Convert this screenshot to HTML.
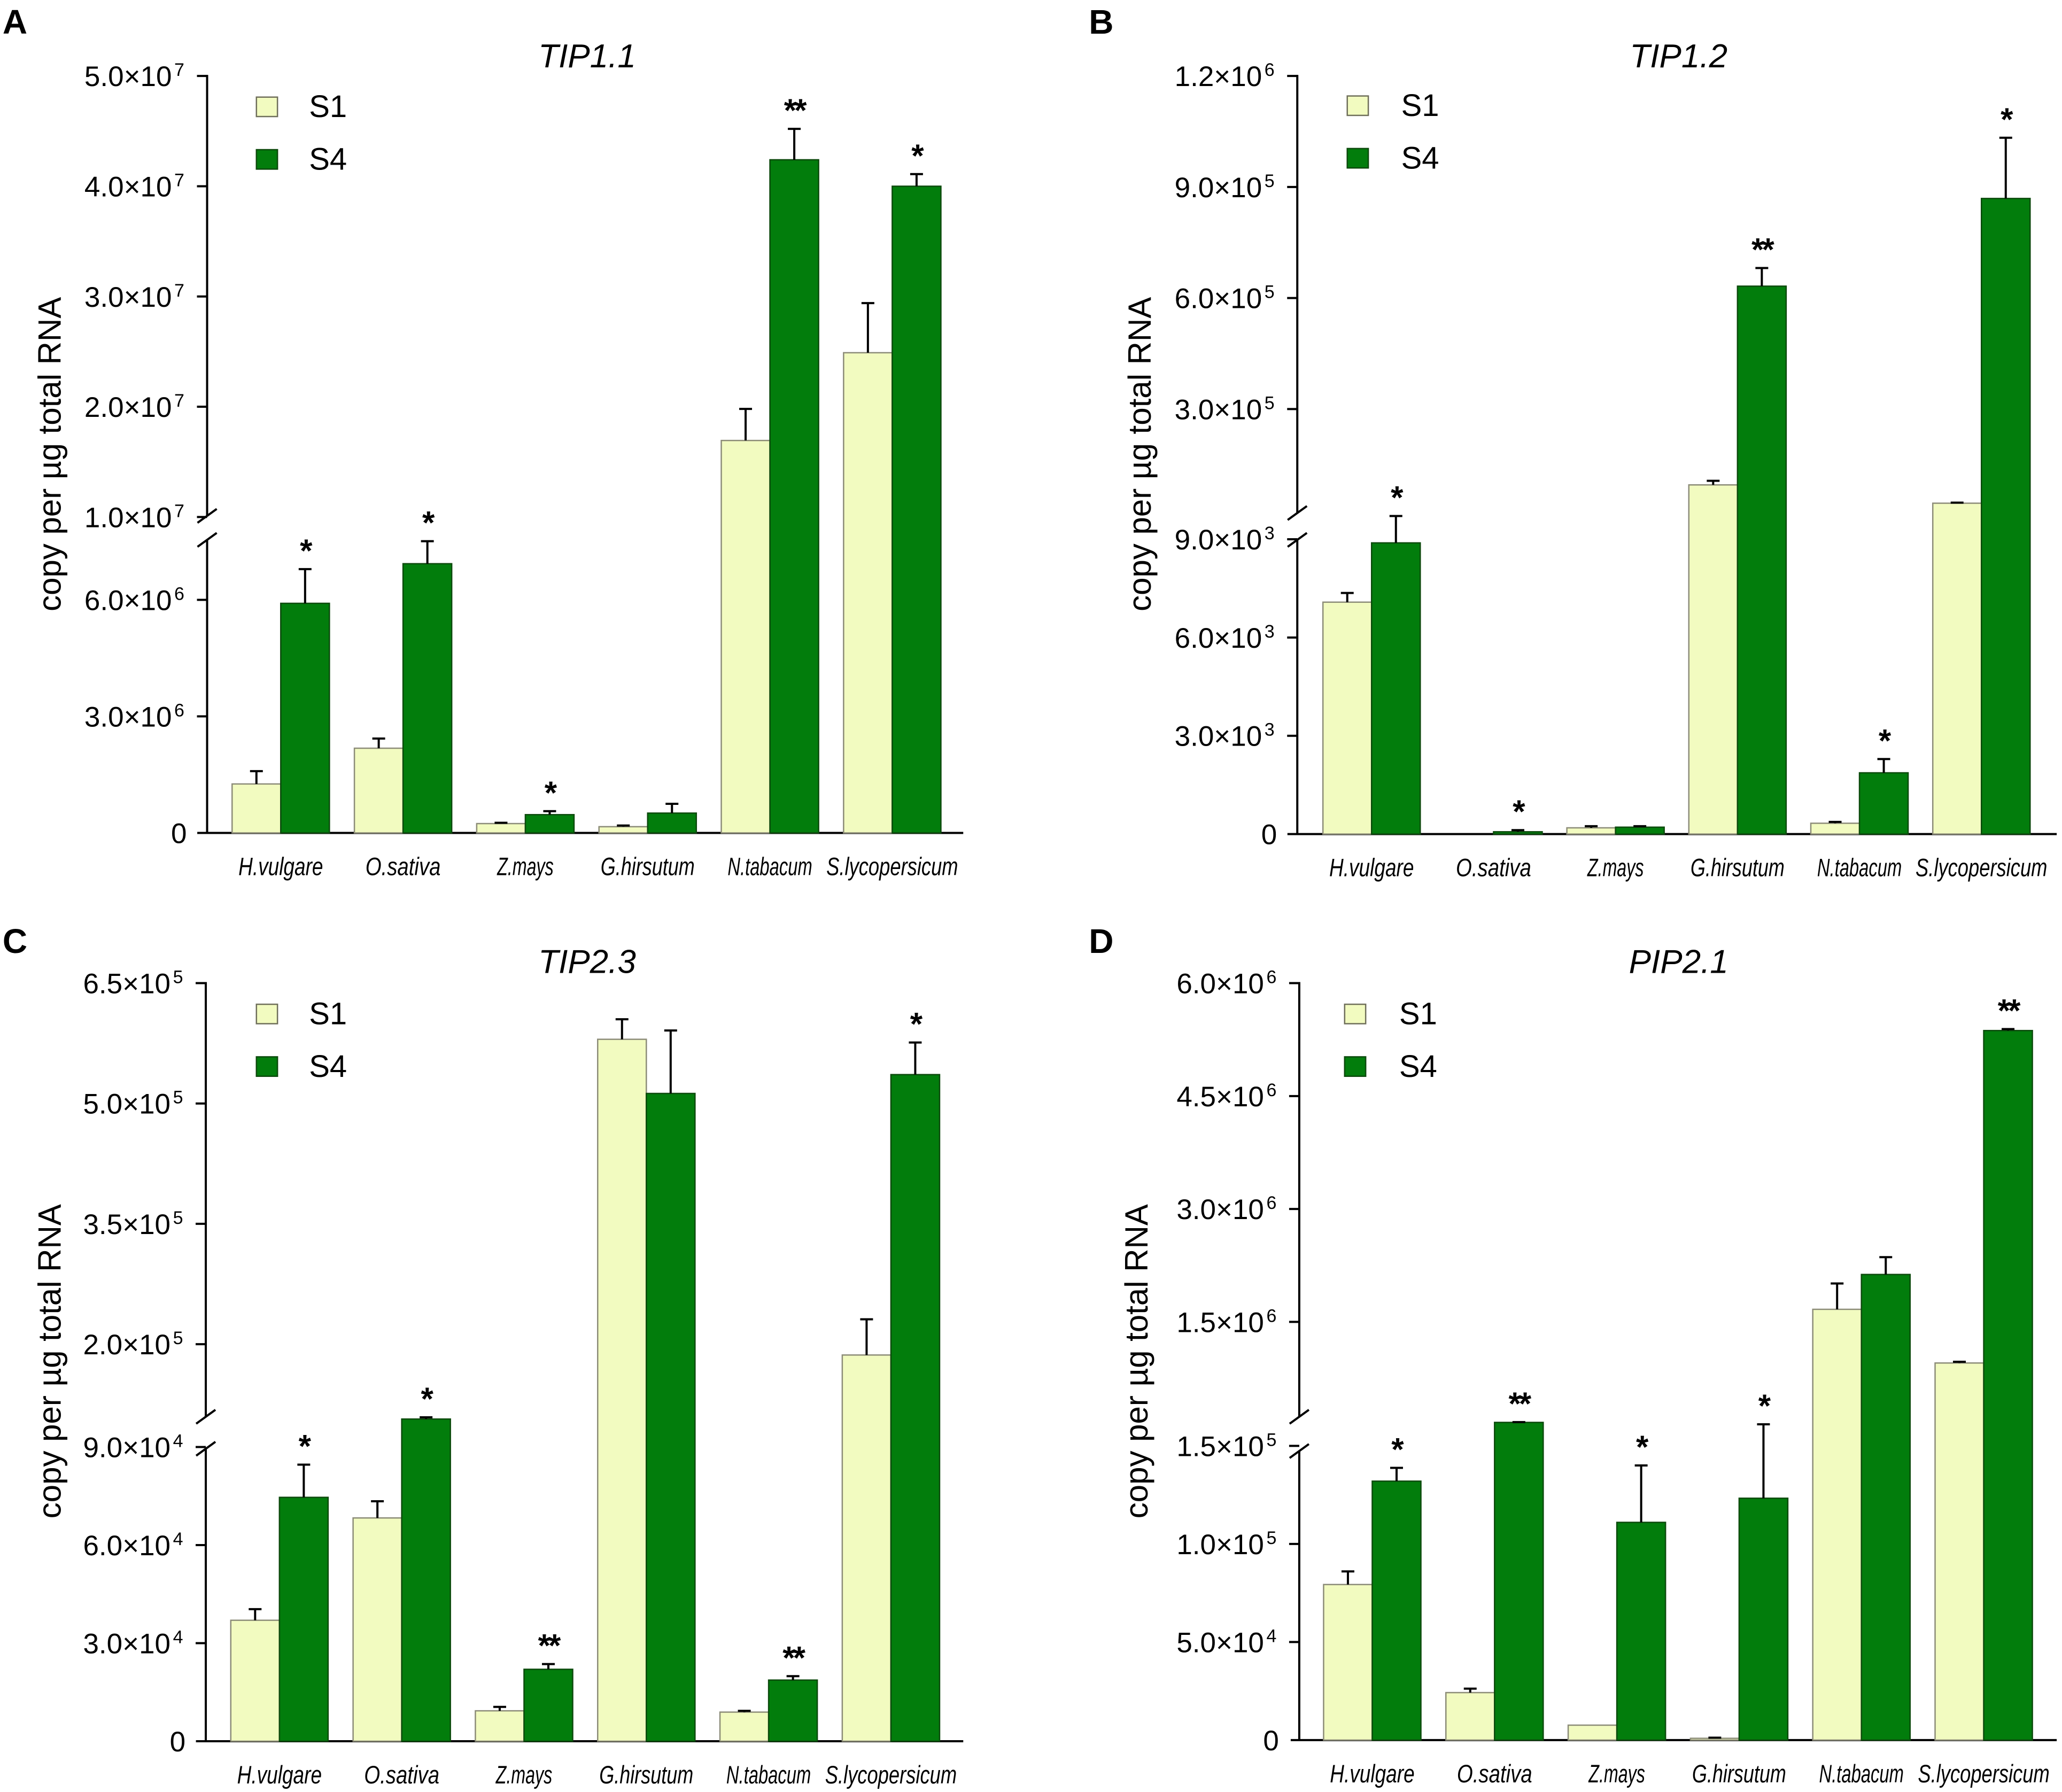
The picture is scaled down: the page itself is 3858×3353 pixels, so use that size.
<!DOCTYPE html>
<html><head><meta charset="utf-8"><style>
html,body{margin:0;padding:0;background:#fff}
svg{display:block}
text{font-family:"Liberation Sans",Arial,sans-serif;fill:#000}
</style></head><body>
<svg id="fig" width="3858" height="3353" viewBox="0 0 3858 3353" xmlns="http://www.w3.org/2000/svg">
<rect width="3858" height="3353" fill="#fff"/>
</svg>
<script>
// ---- data ----
const categories = ["H.vulgare","O.sativa","Z.mays","G.hirsutum","N.tabacum","S.lycopersicum"];
// Panel A TIP1.1
const aS1 = [1.26e6, 2.18e6, 0.24e6, 0.16e6, 1.694e7, 2.49e7];
const aS1Err = [1.59e6, 2.43e6, 0.26e6, 0.19e6, 1.98e7, 2.94e7];
const aS4 = [5.91e6, 6.93e6, 0.47e6, 0.51e6, 4.24e7, 4.0e7];
const aS4Err = [6.79e6, 7.51e6, 0.56e6, 0.75e6, 4.52e7, 4.11e7];
const aStars = ["*","*","*","","**","*"];
const aTickVals = [0, 3e6, 6e6, 1e7, 2e7, 3e7, 4e7, 5e7];
const aTickMant = ["0","3.0×10","6.0×10","1.0×10","2.0×10","3.0×10","4.0×10","5.0×10"];
const aTickExp = ["","6","6","7","7","7","7","7"];
// Panel B TIP1.2
const bS1 = [7.08e3, 0, 0.19e3, 0.95e5, 0.33e3, 0.455e5];
const bS1Err = [7.36e3, 0, 0.24e3, 1.06e5, 0.37e3, 0.47e5];
const bS4 = [8.89e3, 0.07e3, 0.21e3, 6.32e5, 1.87e3, 8.69e5];
const bS4Err = [9.71e3, 0.12e3, 0.24e3, 6.81e5, 2.29e3, 10.33e5];
const bStars = ["*","*","","**","*","*"];
const bTickVals = [0, 3e3, 6e3, 9e3, 3e5, 6e5, 9e5, 1.2e6];
const bTickMant = ["0","3.0×10","6.0×10","9.0×10","3.0×10","6.0×10","9.0×10","1.2×10"];
const bTickExp = ["","3","3","3","5","5","5","6"];
// Panel C TIP2.3
const cS1 = [3.70e4, 6.83e4, 0.93e4, 5.80e5, 0.89e4, 1.865e5];
const cS1Err = [4.04e4, 7.34e4, 1.05e4, 6.05e5, 0.93e4, 2.31e5];
const cS4 = [7.46e4, 1.067e5, 2.2e4, 5.125e5, 1.87e4, 5.36e5];
const cS4Err = [8.46e4, 1.089e5, 2.36e4, 5.91e5, 1.99e4, 5.76e5];
const cStars = ["*","*","**","","**","*"];
const cTickVals = [0, 3e4, 6e4, 9e4, 2e5, 3.5e5, 5e5, 6.5e5];
const cTickMant = ["0","3.0×10","6.0×10","9.0×10","2.0×10","3.5×10","5.0×10","6.5×10"];
const cTickExp = ["","4","4","4","5","5","5","5"];
// Panel D PIP2.1
const dS1 = [7.93e4, 2.42e4, 0.76e4, 0.09e4, 1.667e6, 0.954e6];
const dS1Err = [8.6e4, 2.62e4, 0.76e4, 0.12e4, 2.01e6, 0.97e6];
const dS4 = [13.2e4, 1.65e5, 11.1e4, 12.33e4, 2.13e6, 5.37e6];
const dS4Err = [13.88e4, 1.69e5, 14.0e4, 16.1e4, 2.36e6, 5.39e6];
const dStars = ["*","**","*","*","","**"];
const dTickVals = [0, 5e4, 1e5, 1.5e5, 1.5e6, 3e6, 4.5e6, 6e6];
const dTickMant = ["0","5.0×10","1.0×10","1.5×10","1.5×10","3.0×10","4.5×10","6.0×10"];
const dTickExp = ["","4","5","5","6","6","6","6"];

// ---- layout (zoom-space units converted to px) ----
const KX = 1.2302, KY = 1.0689;
const panels = [
 {id:"a", letter:"A", title:"TIP1.1", ox:0, oy:0, axisX:315, xs:300, xe:1465, zeroY:1458,
  lowRefV:6e6, lowRefY:1050, lowTop:945, upBot:903, up1V:1e7, up1Y:905, up2V:5e7, up2Y:133, thr:8e6,
  first:353, step:186, bw:74, titleX:893, titleY:118, legX:390, legY:170, legTX:470, legTY:205,
  letX:4, letY:59, ytX:75, ytY:795,
  s1:aS1, s1e:aS1Err, s4:aS4, s4e:aS4Err, stars:aStars, tv:aTickVals, tm:aTickMant, te:aTickExp},
 {id:"b", letter:"B", title:"TIP1.2", ox:1929, oy:0, axisX:405, xs:390, xe:1560, zeroY:1460,
  lowRefV:9e3, lowRefY:944, lowTop:945, upBot:898, up1V:3e5, up1Y:716, up2V:1.2e6, up2Y:133, thr:2e4,
  first:444, step:185.5, bw:74, titleX:985, titleY:118, legX:481, legY:168, legTX:563, legTY:203,
  letX:88, letY:59, ytX:165, ytY:795,
  s1:bS1, s1e:bS1Err, s4:bS4, s4e:bS4Err, stars:bStars, tv:bTickVals, tm:bTickMant, te:bTickExp},
 {id:"c", letter:"C", title:"TIP2.3", ox:0, oy:1676, axisX:313, xs:298, xe:1465, zeroY:1480,
  lowRefV:9e4, lowRefY:965, lowTop:968, upBot:912, up1V:2e5, up1Y:785, up2V:6.5e5, up2Y:153, thr:1e5,
  first:351, step:186, bw:74, titleX:893, titleY:135, legX:390, legY:190, legTX:470, legTY:225,
  letX:4, letY:100, ytX:75, ytY:815,
  s1:cS1, s1e:cS1Err, s4:cS4, s4e:cS4Err, stars:cStars, tv:cTickVals, tm:cTickMant, te:cTickExp},
 {id:"d", letter:"D", title:"PIP2.1", ox:1929, oy:1676, axisX:408, xs:395, xe:1560, zeroY:1478,
  lowRefV:1.5e5, lowRefY:963, lowTop:972, upBot:912, up1V:1.5e6, up1Y:746, up2V:6e6, up2Y:153, thr:1.63e5,
  first:445, step:186, bw:74, titleX:985, titleY:135, legX:477, legY:190, legTX:560, legTY:225,
  letX:88, letY:100, ytX:160, ytY:815,
  s1:dS1, s1e:dS1Err, s4:dS4, s4e:dS4Err, stars:dStars, tv:dTickVals, tm:dTickMant, te:dTickExp}
];

const NS = "http://www.w3.org/2000/svg";
const svg = document.getElementById("fig");
function mk(tag, attrs, parent){
  const e = document.createElementNS(NS, tag);
  for (const k in attrs) e.setAttribute(k, attrs[k]);
  parent.appendChild(e);
  return e;
}

panels.forEach(p => {
  const X = d => p.ox + d*KX;
  const Y = d => p.oy + d*KY;
  const yScale = v => {
    if (v <= p.thr) return Y(p.zeroY - v*(p.zeroY - p.lowRefY)/p.lowRefV);
    const t = (v - p.up1V)/(p.up2V - p.up1V);
    return Y(p.up1Y + t*(p.up2Y - p.up1Y));
  };
  const xBar = (i, s) => X(p.first + i*p.step + s*p.bw);
  const bw = p.bw*KX;
  const ax = X(p.axisX);

  const g = mk("g", {}, svg);
  
  

  const letter = mk("text", {x:X(p.letX), y:Y(p.letY), "font-size":64, "font-weight":"bold"}, g);
  letter.textContent = p.letter;
  
  

  const title = mk("text", {x:X(p.titleX), y:Y(p.titleY), "font-size":62, "font-style":"italic", "text-anchor":"middle"}, g);
  title.textContent = p.title;
  
  

  const yt = mk("text", {x:0, y:0, "font-size":60, "text-anchor":"middle",
    transform:"translate(" + (X(p.ytX)+21) + "," + Y(p.ytY) + ") rotate(-90)"}, g);
  yt.textContent = "copy per µg total RNA";
  
  

  // axes
  const yAxisUp = mk("line", {x1:ax, x2:ax, y1:Y(p.up2Y)-2, y2:Y(p.upBot), stroke:"#000", "stroke-width":4}, g);
  
  
  const yAxisLow = mk("line", {x1:ax, x2:ax, y1:Y(p.lowTop), y2:Y(p.zeroY), stroke:"#000", "stroke-width":4}, g);
  
  
  [Y(p.upBot), Y(p.lowTop)].forEach(yy => {
    const br = mk("line", {x1:ax-18, y1:yy+13, x2:ax+18, y2:yy-13, stroke:"#000", "stroke-width":4}, g);
    
    
  });
  const xAxis = mk("line", {x1:X(p.xs), x2:X(p.xe), y1:Y(p.zeroY), y2:Y(p.zeroY), stroke:"#000", "stroke-width":4}, g);
  
  

  // ticks
  p.tv.forEach((v, i) => {
    const ty = yScale(v);
    if (i > 0) {
      const tk = mk("line", {x1:ax-19, x2:ax, y1:ty, y2:ty, stroke:"#000", "stroke-width":4}, g);
      
      
    }
    const lab = mk("text", {x:(p.te[i] ? ax-66 : ax-38), y:ty+19, "font-size":53, "text-anchor":"end"}, g);
    lab.textContent = p.tm[i];
    
    
    if (p.te[i]) {
      const sup = mk("text", {x:ax-52, y:ty, "font-size":34, "text-anchor":"middle"}, g);
      sup.textContent = p.te[i];
      
      
    }
  });

  // bars
  const y0 = Y(p.zeroY);
  categories.forEach((c, i) => {
    const series = [[p.s1[i], p.s1e[i], "#f2fbc0", "#8c8c78", "s1"], [p.s4[i], p.s4e[i], "#027d0c", "#0c4a0c", "s4"]];
    series.forEach((s, si) => {
      const v = s[0];
      if (v <= 0) return;
      const xl = xBar(i, si), yt2 = yScale(v);
      const r = mk("rect", {x:xl, y:yt2, width:bw, height:Math.max(0, y0-yt2), fill:s[2], stroke:s[3], "stroke-width":2.5}, g);
      
      
      const ye = yScale(s[1]);
      if (s[1] > v) {
        const cx = xl + bw/2;
        const el = mk("path", {d:"M"+cx+","+yt2+"V"+ye+"M"+(cx-12)+","+ye+"H"+(cx+12), stroke:"#000", "stroke-width":4, fill:"none"}, g);
        
        
      }
      if (si === 1 && p.stars[i]) {
        const st = mk("text", {x:xl + bw/2, y:Math.min(ye, yt2) - 14, "font-size":60, "font-weight":"bold", "text-anchor":"middle", "letter-spacing":-4}, g);
        st.textContent = p.stars[i];
        
        
      }
    });
    const cl = mk("text", {x:xBar(i,1), y:Y(p.zeroY+74), "font-size":47, "font-style":"italic", "text-anchor":"middle",
      textLength:c.length*17.6, lengthAdjust:"spacingAndGlyphs"}, g);
    cl.textContent = c;
    
    
  });

  // legend
  [["S1","#f2fbc0","#6f6f5a",0],["S4","#027d0c","#0c4a0c",1]].forEach(l => {
    const dy = l[3]*92;
    const sq = mk("rect", {x:X(p.legX), y:Y(p.legY+dy), width:32*KX, height:34*KY, fill:l[1], stroke:l[2], "stroke-width":2.5}, g);
    
    
    const lt = mk("text", {x:X(p.legTX), y:Y(p.legTY+dy), "font-size":58}, g);
    lt.textContent = l[0];
    
    
  });
});
</script>
</body></html>
